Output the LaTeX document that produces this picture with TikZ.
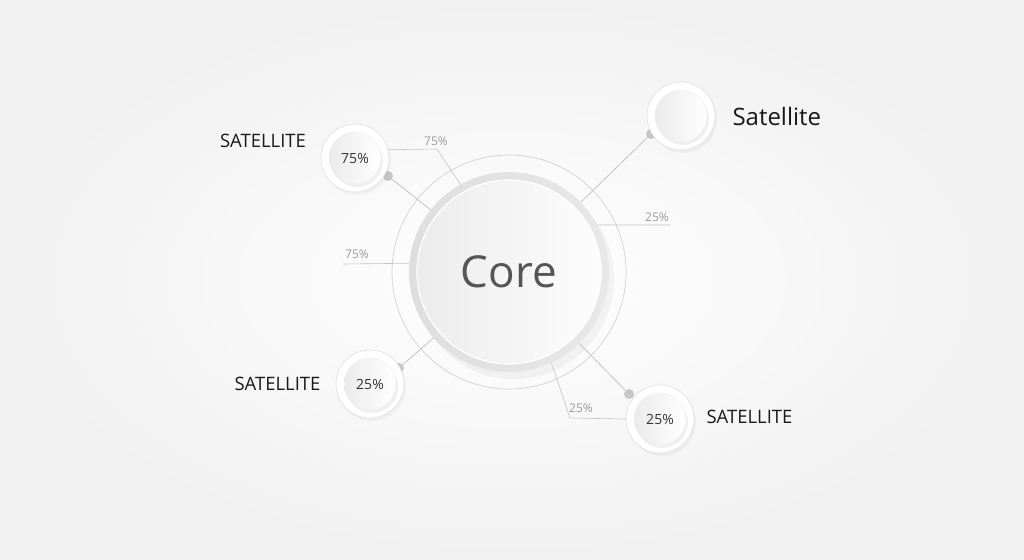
\documentclass[tikz,border=0pt]{standalone}
\usepackage{fontspec}
\setmainfont{Open Sans}
\usetikzlibrary{positioning,shadows}

\definecolor{linkgray}{HTML}{C4C4C4}
\definecolor{labelgray}{HTML}{9A9A9A}
\definecolor{coretext}{HTML}{555555}

\begin{document}
\begin{tikzpicture}[x=1pt,y=-1pt,
    ring/.style={circle, draw=gray!35, line width=0.7pt, minimum size=234pt, inner sep=0pt},
    corebase/.style={circle, left color=gray!26, right color=gray!18, minimum size=200pt, inner sep=0pt,
        drop shadow={shadow xshift=5pt, shadow yshift=-7pt, opacity=0.08}},
    coredisc/.style={circle, left color=gray!15, right color=gray!2, draw=white, line width=1.2pt,
        minimum size=184pt, inner sep=0pt, text=coretext, font=\fontsize{44}{48}\selectfont},
    satring/.style={circle, fill=white, draw=gray!25, line width=0.6pt, minimum size=68pt, inner sep=0pt,
        drop shadow={shadow xshift=2pt, shadow yshift=-3pt, opacity=0.07}},
    satdisc/.style={circle, left color=gray!16, right color=white, draw=gray!12, line width=0.5pt,
        minimum size=52pt, inner sep=0pt, text=black!80, font=\fontsize{14}{16}\selectfont,
        drop shadow={shadow xshift=2pt, shadow yshift=-3pt, opacity=0.12}},
    dot/.style={circle, fill=gray!45, minimum size=10pt, inner sep=0pt},
    link/.style={draw=linkgray, line width=0.8pt},
    pct/.style={text=labelgray, font=\fontsize{12}{14}\selectfont, inner sep=1pt},
    satlabel/.style={text=black!90, font=\fontsize{18.5}{20}\selectfont, inner sep=0pt}]

    % background
    \useasboundingbox (0,0) rectangle (1024,559);
    \shade[inner color=white, outer color=gray!11] (0,0) rectangle (1024,559);

    % core
    \node (corering) [ring] at (509,272) {};
    \node (core) [corebase] at (509,272) {};

    % dots behind the satellites
    \node (dotA) [dot] at (388,176) {};
    \node (dotB) [dot] at (651,134) {};
    \node (dotC) [dot] at (399,368) {};
    \node (dotD) [dot] at (629,394) {};

    \path[link]
        (dotA) edge (core)
        (dotB) edge (core)
        (dotC) edge (core)
        (dotD) edge (core)
    ;

    \node (coretxt) [coredisc] at (509,272) {Core};

    % satellites
    \node (satA) [satring] at (355,158) {};
    \node (satAin) [satdisc] at (355,158) {75\%};
    \node (satB) [satring] at (681,116) {};
    \node (satBin) [satdisc] at (681,116) {};
    \node (satC) [satring] at (370,384) {};
    \node (satCin) [satdisc] at (370,384) {25\%};
    \node (satD) [satring] at (660,419) {};
    \node (satDin) [satdisc] at (660,419) {25\%};

    % labels
    \node (labA) [satlabel] at (263,141) {SATELLITE};
    \node (labB) [satlabel, right=17pt of satB, font=\fontsize{24}{26}\selectfont] {Satellite};
    \node (labC) [satlabel, left=15pt of satC] {SATELLITE};
    \node (labD) [satlabel, right=12pt of satD, yshift=2pt] {SATELLITE};

    % percentage callouts
    \coordinate (bendA) at (437,149);
    \coordinate (endB) at (670,225);
    \coordinate (endL) at (343,264);
    \coordinate (bendD) at (570,418);

    \draw[link, line width=0.6pt] (satA.14) -- (bendA) -- (core.119);
    \draw[link, line width=0.6pt] (core.28) -- (endB);
    \draw[link, line width=0.6pt] (core.175) -- (endL);
    \draw[link, line width=0.6pt] (satD.west) -- (bendD) -- (core.-65);

    \node (pctA) [pct] at (436,141) {75\%};
    \node (pctB) [pct] at (657,217) {25\%};
    \node (pctL) [pct] at (357,254) {75\%};
    \node (pctD) [pct] at (581,408) {25\%};
\end{tikzpicture}
\end{document}
